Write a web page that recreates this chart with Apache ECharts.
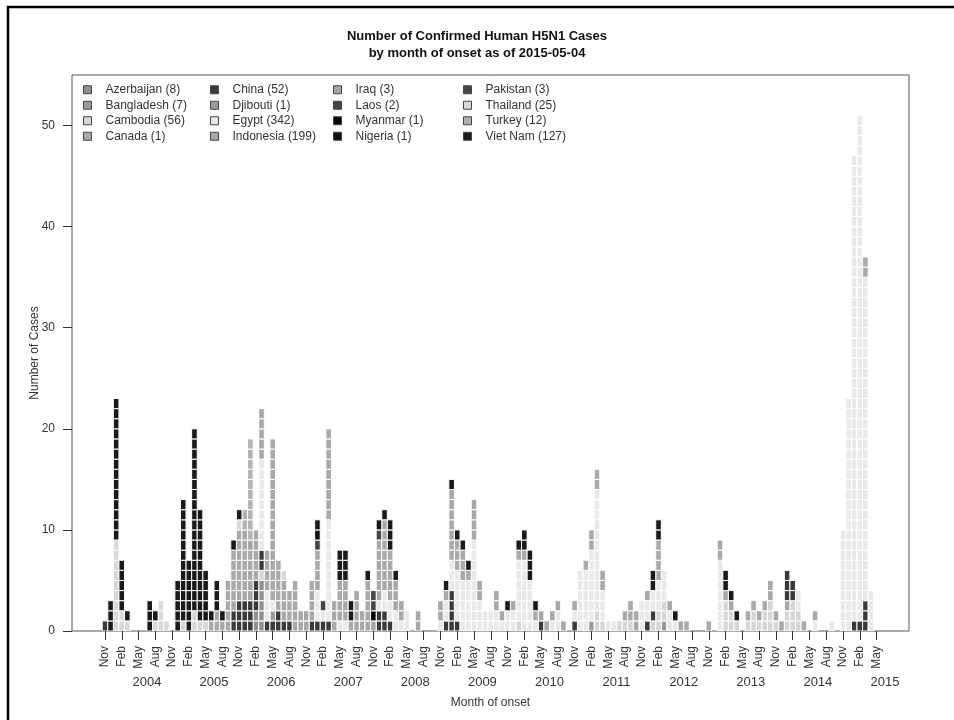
<!DOCTYPE html>
<html><head><meta charset="utf-8">
<script src="https://cdn.jsdelivr.net/npm/echarts@6/dist/echarts.min.js"></script>
<style>html,body{margin:0;padding:0;background:#fff}#chart{width:954px;height:720px}</style>
</head><body><div id="chart"></div>
<script>
// ---- data: [month of onset 'YYYY-MM', cases] ----
const countries = ['Azerbaijan','Bangladesh','Cambodia','Canada','China','Djibouti','Egypt','Indonesia',
                   'Iraq','Laos','Myanmar','Nigeria','Pakistan','Thailand','Turkey','Viet Nam'];
const legendTotals = [8, 7, 56, 1, 52, 1, 342, 199, 3, 2, 1, 1, 3, 25, 12, 127];

const azerbaijan = [['2006-02',2],['2006-03',5]];
const bangladesh = [['2011-02',1],['2012-03',1]];
const cambodia = [['2005-01',1],['2005-03',2],['2005-04',1],['2005-05',1],['2006-03',1],['2010-01',1],
  ['2011-03',2],['2011-04',1],['2011-07',1],['2011-08',1],['2011-09',1],['2012-01',1],['2012-02',2],['2012-03',2],
  ['2013-02',3],['2013-03',2],['2013-04',1],['2013-06',1],['2013-07',2],['2013-08',1],['2013-09',2],['2013-10',3],
  ['2013-11',1],['2014-01',2],['2014-02',3],['2014-03',2]];
const canada = [['2014-01',1]];
const china = [['2003-11',1],['2005-10',2],['2005-11',3],['2005-12',3],['2006-01',3],['2006-02',3],['2006-03',2],
  ['2006-04',1],['2006-05',1],['2006-06',2],['2006-07',1],['2006-08',1],['2006-12',1],['2007-01',1],['2007-02',1],
  ['2007-03',1],['2007-12',2],['2008-01',2],['2008-02',1],['2008-12',1],['2009-01',4],['2009-02',1],['2010-05',1],
  ['2010-11',1],['2011-12',1],['2012-01',1],['2014-01',3],['2014-02',2],['2015-01',1],['2015-02',1],['2015-03',3]];
const djibouti = [['2006-05',1]];
const egypt = [['2006-03',9],['2006-04',3],['2006-05',1],['2007-01',3],['2007-02',1],['2007-03',10],['2007-05',1],
  ['2007-06',1],['2007-12',1],['2008-01',2],['2008-02',2],['2008-03',2],['2008-04',1],['2008-05',2],['2008-11',1],
  ['2008-12',2],['2009-01',3],['2009-02',5],['2009-03',5],['2009-04',5],['2009-05',9],['2009-06',3],['2009-07',2],
  ['2009-08',2],['2009-09',2],['2009-10',1],['2009-11',2],['2009-12',2],['2010-01',6],['2010-02',7],['2010-03',5],
  ['2010-04',1],['2010-07',1],['2010-08',2],['2010-11',1],['2010-12',6],['2011-01',6],['2011-02',7],['2011-03',12],
  ['2011-04',3],['2011-05',1],['2011-06',1],['2011-11',3],['2011-12',2],['2012-01',2],['2012-02',3],['2012-03',3],
  ['2012-04',2],['2012-05',1],['2013-01',7],['2014-03',2],['2014-06',1],['2014-09',1],['2014-11',10],['2014-12',23],
  ['2015-01',46],['2015-02',50],['2015-03',32],['2015-04',4]];
const indonesia = [['2005-06',1],['2005-07',2],['2005-08',1],['2005-09',5],['2005-10',6],['2005-11',7],['2005-12',7],
  ['2006-01',5],['2006-02',5],['2006-03',5],['2006-04',4],['2006-05',16],['2006-06',5],['2006-07',4],['2006-08',3],
  ['2006-09',5],['2006-10',2],['2006-11',2],['2006-12',4],['2007-01',4],['2007-03',9],['2007-04',3],['2007-05',4],
  ['2007-06',4],['2007-07',1],['2007-08',4],['2007-09',2],['2007-10',5],['2007-11',1],['2007-12',6],['2008-01',7],
  ['2008-02',5],['2008-03',3],['2008-04',2],['2008-07',2],['2008-11',2],['2008-12',1],['2009-01',7],['2009-02',3],
  ['2009-03',3],['2009-04',1],['2009-05',4],['2009-06',2],['2009-09',2],['2009-10',1],['2009-12',1],['2010-01',1],
  ['2010-02',1],['2010-04',1],['2010-05',1],['2010-06',1],['2010-07',1],['2010-08',1],['2010-09',1],['2010-11',1],
  ['2011-01',1],['2011-02',2],['2011-03',2],['2011-04',2],['2011-08',1],['2011-09',2],['2011-10',2],['2011-12',1],
  ['2012-02',4],['2012-04',1],['2012-06',1],['2012-07',1],['2012-11',1],['2013-01',2],['2013-02',1],['2013-03',1],
  ['2013-06',1],['2013-07',1],['2013-08',1],['2013-09',1],['2013-10',2],['2013-11',1],['2013-12',1],['2014-04',1],
  ['2014-06',1],['2015-03',2]];
const iraq = [['2006-01',1]];
const laos = [['2007-01',1],['2007-02',1]];
const myanmar = [['2007-11',1]];
const nigeria = [['2007-01',1]];
const pakistan = [['2007-11',2],['2007-12',1]];
const thailand = [['2004-01',9],['2004-02',2],['2004-03',1],['2004-08',1],['2004-09',3],['2004-10',1],
  ['2005-11',1],['2006-07',1]];
const turkey = [['2005-12',2],['2006-01',10]];
const vietNam = [['2003-12',3],['2004-01',14],['2004-02',5],['2004-03',1],['2004-07',3],['2004-08',1],['2004-12',5],
  ['2005-01',12],['2005-02',7],['2005-03',18],['2005-04',11],['2005-05',5],['2005-06',1],['2005-07',3],['2005-08',1],
  ['2005-10',1],['2005-11',1],['2007-01',1],['2007-05',3],['2007-06',3],['2007-07',2],['2007-10',1],['2007-12',1],
  ['2008-01',1],['2008-02',3],['2008-03',1],['2008-12',1],['2009-01',1],['2009-02',1],['2009-03',1],['2009-04',1],
  ['2009-11',1],['2010-01',1],['2010-02',2],['2010-03',3],['2010-04',1],['2012-01',2],['2012-02',2],['2012-05',1],
  ['2013-02',2],['2013-03',1],['2013-04',1]];

const monthNames = ['Jan','Feb','Mar','Apr','May','Jun','Jul','Aug','Sep','Oct','Nov','Dec'];
const yearLabels = ['2004','2005','2006','2007','2008','2009','2010','2011','2012','2013','2014','2015'];
const yTickLabels = [0, 10, 20, 30, 40, 50];

// ---- styling ----
const colors = ['#8f8f8f','#9a9a9a','#d6d6d6','#a8a8a8','#3a3a3a','#9c9c9c','#e9e9e9','#a9a9a9',
                '#a4a4a4','#444444','#050505','#111111','#474747','#d9d9d9','#b3b3b3','#1a1a1a'];
const FONT = 'Liberation Sans, Arial, sans-serif';

// month index: 0 = Nov 2003
function monthIndex(key){ const p = key.split('-').map(Number); return (p[0]-2003)*12 + (p[1]-11); }
const countryData = [azerbaijan,bangladesh,cambodia,canada,china,djibouti,egypt,indonesia,
                     iraq,laos,myanmar,nigeria,pakistan,thailand,turkey,vietNam];

const baseByMonth = {};
function renderItem(params, api){
  const m = api.value(0), b = api.value(1), n = api.value(2);
  const color = api.visual('color');
  const children = [];
  for (let k = 0; k < n; k++){
    const p0 = api.coord([m - 0.5, b + k + 1]);
    const p1 = api.coord([m + 0.5, b + k]);
    children.push({type:'rect', shape:{x:p0[0], y:p0[1], width:p1[0]-p0[0], height:p1[1]-p0[1]},
      style:{fill:color, stroke:'#ffffff', lineWidth:1}});
  }
  return {type:'group', children};
}
const series = countries.map((c, ci) => {
  const data = countryData[ci].map(([key, n]) => {
    const m = monthIndex(key);
    const b = baseByMonth[m] || 0;
    baseByMonth[m] = b + n;
    return [m, b, n];
  });
  return {type:'custom', name:c, renderItem, data, clip:true,
          itemStyle:{color:colors[ci]}, encode:{x:0, y:1}};
});

const tickVals = []; for (let m = 0; m <= 138; m += 3) tickVals.push(m);
const yearVals = yearLabels.map((y, i) => 7.5 + 12*i);

const legendCols = [[0,1,2,3],[4,5,6,7],[8,9,10,11],[12,13,14,15]];
const legendLeft = [83, 210, 333, 463];
const legends = legendCols.map((col, i) => ({
  orient:'vertical', left:legendLeft[i], top:82, padding:0, itemWidth:8, itemHeight:8, itemGap:0,
  icon:'rect', selectedMode:false,
  data: col.map(ci => ({name:countries[ci], itemStyle:{color:colors[ci], borderColor:'#444', borderWidth:1}})),
  formatter: name => name + ' (' + legendTotals[countries.indexOf(name)] + ')',
  textStyle:{fontSize:12, color:'#333', fontFamily:FONT, lineHeight:15.5, padding:[0,0,0,9]}
}));

const chart = echarts.init(document.getElementById('chart'), null, {renderer:'canvas'});
chart.setOption({
  animation:false,
  backgroundColor:'#ffffff',
  title:{text:'Number of Confirmed Human H5N1 Cases\nby month of onset as of 2015-05-04',
    left:'center', top:23,
    textStyle:{fontSize:13, fontWeight:'bold', color:'#111', fontFamily:FONT, lineHeight:17, align:'center'}},
  legend:legends,
  grid:{left:72, right:45, top:75, bottom:89, show:true, borderColor:'#555', borderWidth:1, backgroundColor:'transparent'},
  xAxis:[{
    type:'value', min:-5.9, max:143.8,
    axisLine:{show:false, onZero:false}, splitLine:{show:false},
    axisTick:{show:true, customValues:tickVals, length:9, lineStyle:{color:'#333'}},
    axisLabel:{customValues:tickVals, rotate:90, margin:15, fontSize:12, color:'#333', fontFamily:FONT,
      formatter: v => monthNames[(10 + Math.round(v)) % 12]},
    name:'Month of onset', nameLocation:'middle', nameGap:66,
    nameTextStyle:{fontSize:12, color:'#333', fontFamily:FONT}
  },{
    type:'value', min:-5.9, max:143.8, position:'bottom',
    axisLine:{show:false, onZero:false}, splitLine:{show:false}, axisTick:{show:false},
    axisLabel:{customValues:yearVals, margin:45, fontSize:13, color:'#333', fontFamily:FONT,
      formatter: v => yearLabels[Math.round((v - 7.5)/12)]}
  }],
  yAxis:{
    type:'value', min:0, max:55, position:'left',
    axisLine:{show:false, onZero:false}, splitLine:{show:false},
    axisTick:{show:true, customValues:yTickLabels, length:9, lineStyle:{color:'#333'}},
    axisLabel:{customValues:yTickLabels, margin:17, fontSize:12, color:'#333', fontFamily:FONT},
    name:'Number of Cases', nameLocation:'middle', nameGap:31, nameMoveOverlap:false,
    nameTextStyle:{fontSize:12, color:'#333', fontFamily:FONT}
  },
  graphic:[{type:'polyline', shape:{points:[[8,720],[8,7],[954,7]]}, style:{stroke:'#000', lineWidth:2.5, fill:null}, silent:true}],
  series
});
</script></body></html>
